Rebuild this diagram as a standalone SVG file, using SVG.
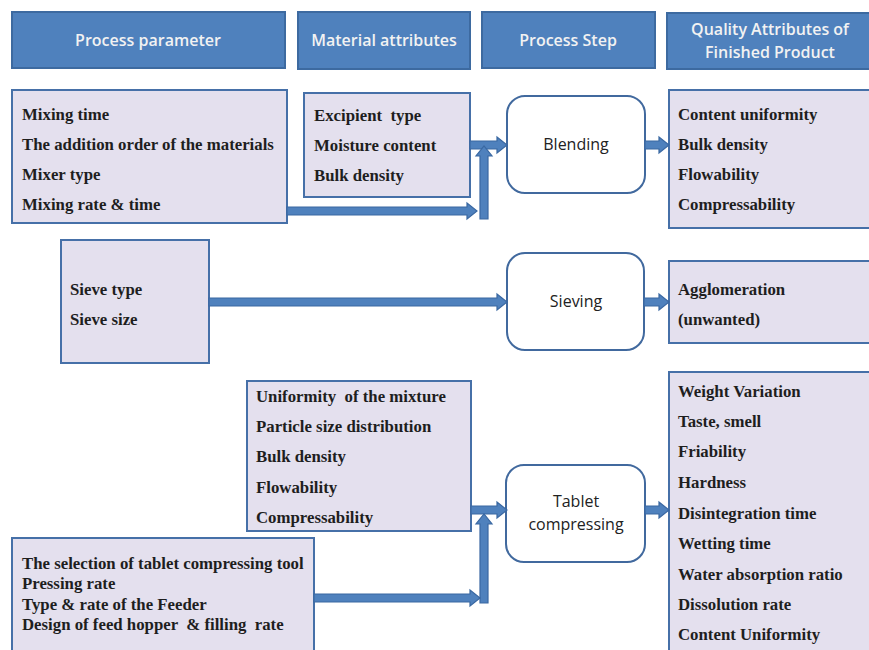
<svg xmlns="http://www.w3.org/2000/svg" width="869" height="650" viewBox="0 0 869 650">
<style>
.hdr{fill:#4f81bd;stroke:#3d6aa0;stroke-width:2}
.ht{font-family:"Open Sans","Liberation Sans",sans-serif;font-size:16px;font-weight:600;fill:#f2f2f2;text-anchor:middle}
.box{fill:#e4e0ee;stroke:#4670a8;stroke-width:2}
.lt{font-family:"Liberation Serif",serif;font-size:16.8px;font-weight:bold;fill:#1e1e1e;white-space:pre}
.step{fill:#ffffff;stroke:#41699e;stroke-width:2}
.st{font-family:"Open Sans","Liberation Sans",sans-serif;font-size:16px;fill:#222;text-anchor:middle}
.arr{fill:#4f81bd;stroke:#3a68a2;stroke-width:1.2}
</style>
<rect width="869" height="650" fill="#ffffff"/>
<g id="headers">
<g id="h-process-parameter"><rect class="hdr" x="12" y="12" width="273" height="56"/><text class="ht" x="148" y="46">Process parameter</text></g>
<g id="h-material-attributes"><rect class="hdr" x="298" y="12" width="172" height="57"/><text class="ht" x="384" y="46">Material attributes</text></g>
<g id="h-process-step"><rect class="hdr" x="482" y="12" width="173" height="56"/><text class="ht" x="568" y="46">Process Step</text></g>
<g id="h-quality"><rect class="hdr" x="667" y="13" width="210" height="56"/><text class="ht" x="770" y="35">Quality Attributes of</text><text class="ht" x="770" y="58">Finished Product</text></g>
</g>
<g id="pp-blending"><rect class="box" x="12" y="90" width="275" height="133"/>
<text class="lt" x="22" y="120">Mixing time</text>
<text class="lt" x="22" y="150">The addition order of the materials</text>
<text class="lt" x="22" y="180">Mixer type</text>
<text class="lt" x="22" y="210">Mixing rate &amp; time</text></g>
<g id="ma-blending"><rect class="box" x="304" y="93" width="166" height="104"/>
<text class="lt" x="314" y="121">Excipient  type</text>
<text class="lt" x="314" y="151">Moisture content</text>
<text class="lt" x="314" y="181">Bulk density</text></g>
<g id="step-blending"><rect class="step" x="507" y="96" width="138" height="97" rx="18"/><text class="st" x="576" y="150">Blending</text></g>
<g id="qa-blending"><rect class="box" x="669" y="90" width="210" height="138"/>
<text class="lt" x="678" y="120">Content uniformity</text>
<text class="lt" x="678" y="150">Bulk density</text>
<text class="lt" x="678" y="180">Flowability</text>
<text class="lt" x="678" y="210">Compressability</text></g>
<g id="pp-sieving"><rect class="box" x="61" y="240" width="148" height="123"/>
<text class="lt" x="70" y="295">Sieve type</text>
<text class="lt" x="70" y="325">Sieve size</text></g>
<g id="step-sieving"><rect class="step" x="507" y="253" width="137" height="97" rx="18"/><text class="st" x="576" y="307">Sieving</text></g>
<g id="qa-sieving"><rect class="box" x="669" y="261" width="210" height="82"/>
<text class="lt" x="678" y="295">Agglomeration</text>
<text class="lt" x="678" y="325">(unwanted)</text></g>
<g id="ma-tablet"><rect class="box" x="247" y="381" width="224" height="150"/>
<text class="lt" x="256" y="402">Uniformity  of the mixture</text>
<text class="lt" x="256" y="432">Particle size distribution</text>
<text class="lt" x="256" y="462">Bulk density</text>
<text class="lt" x="256" y="493">Flowability</text>
<text class="lt" x="256" y="523">Compressability</text></g>
<g id="pp-tablet"><rect class="box" x="12" y="538" width="302" height="120"/>
<text class="lt" x="22" y="569">The selection of tablet compressing tool</text>
<text class="lt" x="22" y="589">Pressing rate</text>
<text class="lt" x="22" y="610">Type &amp; rate of the Feeder</text>
<text class="lt" x="22" y="630">Design of feed hopper  &amp; filling  rate</text></g>
<g id="step-tablet"><rect class="step" x="506" y="465" width="139" height="97" rx="18"/><text class="st" x="576" y="507">Tablet</text><text class="st" x="576" y="530">compressing</text></g>
<g id="qa-tablet"><rect class="box" x="669" y="372" width="210" height="290"/>
<text class="lt" x="678" y="397">Weight Variation</text>
<text class="lt" x="678" y="427">Taste, smell</text>
<text class="lt" x="678" y="457">Friability</text>
<text class="lt" x="678" y="488">Hardness</text>
<text class="lt" x="678" y="519">Disintegration time</text>
<text class="lt" x="678" y="549">Wetting time</text>
<text class="lt" x="678" y="580">Water absorption ratio</text>
<text class="lt" x="678" y="610">Dissolution rate</text>
<text class="lt" x="678" y="640">Content Uniformity</text></g>
<g id="connectors">
<polygon class="arr" points="470,141 497,141 497,137 507,145 497,153 497,149 470,149"/>
<polygon class="arr" points="480,219 480,156 476,156 484,146 492,156 488,156 488,219"/>
<polygon class="arr" points="287,207 467,207 467,203 477,211 467,219 467,215 287,215"/>
<polygon class="arr" points="645,141 659,141 659,137 669,145 659,153 659,149 645,149"/>
<polygon class="arr" points="209,298 497,298 497,294 507,302 497,310 497,306 209,306"/>
<polygon class="arr" points="644,298 659,298 659,294 669,302 659,310 659,306 644,306"/>
<polygon class="arr" points="471,506 497,506 497,502 507,510 497,518 497,514 471,514"/>
<polygon class="arr" points="480,603 480,524 476,524 484,514 492,524 488,524 488,603"/>
<polygon class="arr" points="314,594 470,594 470,590 480,598 470,606 470,602 314,602"/>
<polygon class="arr" points="645,506 659,506 659,502 669,510 659,518 659,514 645,514"/>
</g>
</svg>
